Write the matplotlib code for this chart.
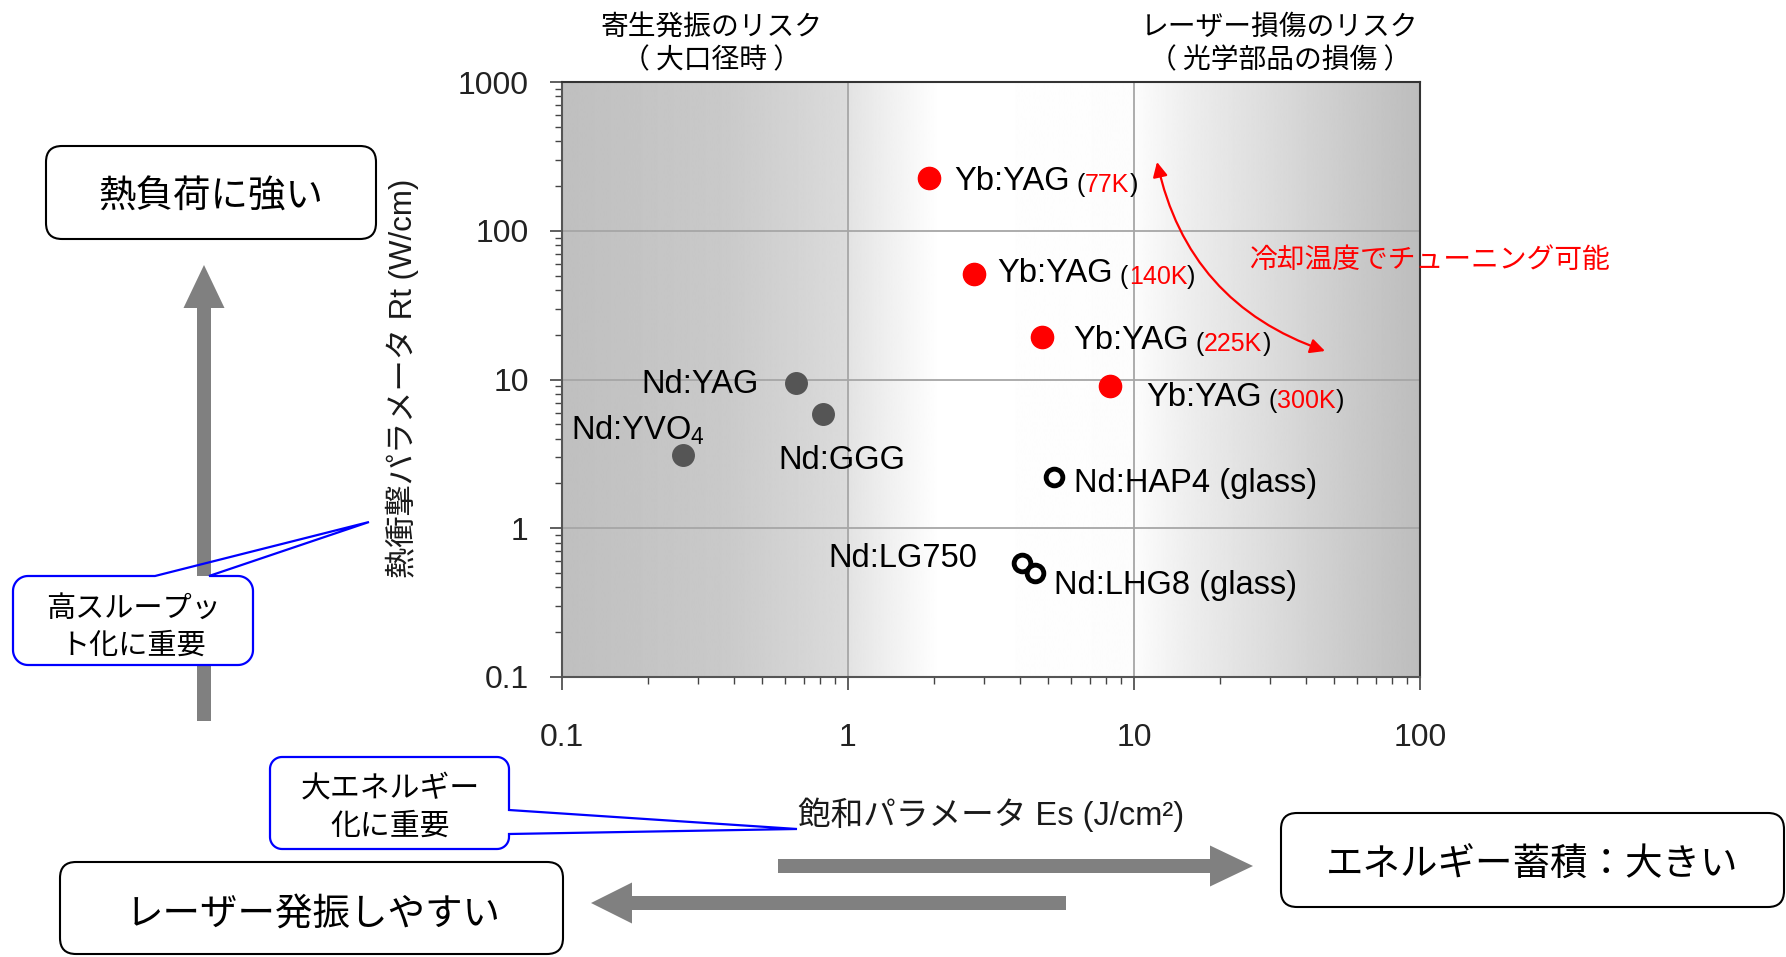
import matplotlib
matplotlib.use("Agg")
import numpy as np
import matplotlib.pyplot as plt
from matplotlib import transforms
from matplotlib.patches import FancyBboxPatch, FancyArrow, Polygon
from matplotlib.ticker import FixedLocator, FixedFormatter, NullFormatter

plt.rcParams['font.family'] = ['Liberation Sans', 'Noto Sans CJK JP']
plt.rcParams['mathtext.fontset'] = 'custom'
plt.rcParams['mathtext.rm'] = 'Liberation Sans'
plt.rcParams['mathtext.it'] = 'Liberation Sans:italic'
plt.rcParams['mathtext.default'] = 'regular'

JP = ['Noto Sans CJK JP', 'Liberation Sans']

# --- data ---
yb_name = 'Yb:YAG'
yb_temps = ['77K', '140K', '225K', '300K']
yb_es = [1.92, 2.75, 4.77, 8.27]
yb_rt = [226, 51, 19.3, 9.0]

crystal_names = ['Nd:YAG', 'Nd:GGG', 'Nd:YVO$_4$']
crystal_es = [0.66, 0.82, 0.265]
crystal_rt = [9.5, 5.9, 3.1]

glass_names = ['Nd:HAP4 (glass)', 'Nd:LG750', 'Nd:LHG8 (glass)']
glass_es = [5.24, 4.05, 4.5]
glass_rt = [2.2, 0.58, 0.50]

x_ticks = [0.1, 1, 10, 100]
x_tick_labels = ['0.1', '1', '10', '100']
y_ticks = [0.1, 1, 10, 100, 1000]
y_tick_labels = ['0.1', '1', '10', '100', '1000']

# label placement (pixels: dx right, dy up) and alignment
yb_offsets = [(25, -11.5), (24, -8), (31, -11.5), (35.5, -19.5)]
crystal_offsets = [(-37.5, -10.5, 'right'), (19, -55.5, 'center'), (-45, 15.5, 'center')]
glass_offsets = [(20.5, -14.5, 'left'), (-44.7, -3.5, 'right'), (19, -20.5, 'left')]

W, H, DPI = 1786, 957, 100
fig = plt.figure(figsize=(W / DPI, H / DPI), dpi=DPI)
# pixel coordinates measured from the top-left corner of the picture
px = transforms.Affine2D().scale(1 / DPI, -1 / DPI).translate(0, H / DPI) + fig.dpi_scale_trans

pos = [562 / W, 1 - 677 / H, (1420 - 562) / W, (677 - 82) / H]

# background shading of the plot area
bg = fig.add_axes(pos, zorder=0)
fx = np.linspace(0, 1, 1200)
stops = [0.0, 0.19, 0.332, 0.334, 0.38, 0.44, 0.667, 0.733, 0.83, 0.925, 1.0]
vals = [0.75, 0.79, 0.86, 0.89, 0.94, 1.0, 0.99, 0.93, 0.86, 0.79, 0.74]
grad = np.interp(fx, stops, vals)[None, :]
bg.imshow(grad, extent=[0, 1, 0, 1], aspect='auto', cmap='gray', vmin=0, vmax=1,
          interpolation='bilinear')
bg.set_xlim(0, 1)
bg.set_ylim(0, 1)
bg.axis('off')

ax = fig.add_axes(pos, zorder=1)
ax.patch.set_alpha(0)
ax.set_xscale('log')
ax.set_yscale('log')
ax.set_xlim(0.1, 100)
ax.set_ylim(0.1, 1000)

ax.xaxis.set_major_locator(FixedLocator(x_ticks))
ax.xaxis.set_major_formatter(FixedFormatter(x_tick_labels))
ax.xaxis.set_minor_formatter(NullFormatter())
ax.yaxis.set_major_locator(FixedLocator(y_ticks))
ax.yaxis.set_major_formatter(FixedFormatter(y_tick_labels))
ax.yaxis.set_minor_formatter(NullFormatter())

ax.tick_params(axis='both', which='major', direction='out', length=9, width=1.2,
               color='#444444', labelsize=23, labelcolor='#222222')
ax.tick_params(axis='both', which='minor', direction='out', length=5, width=1.0,
               color='#444444')
ax.tick_params(axis='y', which='major', pad=15)
ax.tick_params(axis='x', which='major', pad=24)

ax.grid(True, which='major', color='#a6a6a6', lw=1.3)
ax.set_axisbelow(True)
for side in ['left', 'bottom']:
    ax.spines[side].set_color('#555555')
    ax.spines[side].set_linewidth(1.5)
for side in ['top', 'right']:
    ax.spines[side].set_color('#333333')
    ax.spines[side].set_linewidth(1.5)

ax.set_ylabel('熱衝撃パラメータ Rt (W/cm)', fontsize=22.5, color='#1a1a1a')
ax.yaxis.label.set(ha='center', va='center', rotation_mode='anchor')
ax.yaxis.set_label_coords((402 - 562) / 858, (677 - 378) / 595)
ax.set_xlabel('飽和パラメータ Es (J/cm²)', fontsize=23.5, color='#1a1a1a')
ax.xaxis.label.set(ha='center', va='center')
ax.xaxis.set_label_coords((991 - 562) / 858, -(815 - 677) / 595)

# markers
ax.plot(yb_es, yb_rt, 'o', ms=16, color='#ff0000', zorder=3, clip_on=False)
ax.plot(crystal_es, crystal_rt, 'o', ms=15.5, color='#555555', zorder=3)
ax.plot(glass_es, glass_rt, 'o', ms=12, mfc='white', mec='black', mew=3.5, zorder=3)

# labels
for x, y, t, (dx, dy) in zip(yb_es, yb_rt, yb_temps, yb_offsets):
    t0 = ax.annotate(yb_name, (x, y), xytext=(dx, dy), textcoords='offset pixels',
                     ha='left', va='baseline', fontsize=23.5, zorder=4)
    t1 = ax.annotate(' (', (1, 0), xycoords=t0, ha='left', va='bottom', fontsize=18)
    t2 = ax.annotate(t, (1, 0), xycoords=t1, ha='left', va='bottom', fontsize=18,
                     color='#ff0000')
    ax.annotate(')', (1, 0), xycoords=t2, ha='left', va='bottom', fontsize=18)

for x, y, name, (dx, dy, ha) in zip(crystal_es, crystal_rt, crystal_names, crystal_offsets):
    ax.annotate(name, (x, y), xytext=(dx, dy), textcoords='offset pixels',
                ha=ha, va='baseline', fontsize=23.5)

for x, y, name, (dx, dy, ha) in zip(glass_es, glass_rt, glass_names, glass_offsets):
    ax.annotate(name, (x, y), xytext=(dx, dy), textcoords='offset pixels',
                ha=ha, va='baseline', fontsize=23.5)

# red tuning arrow + text
ax.annotate('', xy=(1325, 351), xycoords=px, xytext=(1157, 162), textcoords=px,
            arrowprops=dict(arrowstyle='<|-|>', connectionstyle='arc3,rad=0.28',
                            color='#ff0000', lw=1.6, mutation_scale=22,
                            shrinkA=0, shrinkB=0),
            annotation_clip=False)
fig.text(1249, 260, '冷却温度でチューニング可能', transform=px, ha='left', va='center',
         fontsize=20, color='#ff0000', family=JP)

# titles above the plot
fig.text(711, 27, '寄生発振のリスク', transform=px, ha='center', va='center', fontsize=20, family=JP)
fig.text(711, 60, '（ 大口径時 ）', transform=px, ha='center', va='center', fontsize=20, family=JP)
fig.text(1280, 27, 'レーザー損傷のリスク', transform=px, ha='center', va='center', fontsize=20, family=JP)
fig.text(1280, 60, '（ 光学部品の損傷 ）', transform=px, ha='center', va='center', fontsize=20, family=JP)


def rounded_box(x0, y0, x1, y1, r):
    p = FancyBboxPatch((x0, y0), x1 - x0, y1 - y0,
                       boxstyle='round,pad=0,rounding_size=%g' % r,
                       transform=px, fc='white', ec='black', lw=1.5, zorder=3)
    fig.add_artist(p)


def arc(cx, cy, r, a0, a1, n=14):
    t = np.linspace(a0, a1, n)
    return list(zip(cx + r * np.cos(t), cy + r * np.sin(t)))


def callout(x0, y0, x1, y1, r, side, b0, b1, tip):
    tl = arc(x0 + r, y0 + r, r, np.pi, 1.5 * np.pi)
    tr = arc(x1 - r, y0 + r, r, -0.5 * np.pi, 0)
    br = arc(x1 - r, y1 - r, r, 0, 0.5 * np.pi)
    bl = arc(x0 + r, y1 - r, r, 0.5 * np.pi, np.pi)
    fill = Polygon(tl + tr + br + bl, closed=True, transform=px, fc='white',
                   ec='none', zorder=3)
    if side == 'top':
        notch = [(b0, y0), tip, (b1, y0)]
        pts = tl + notch + tr + br + bl
    else:
        notch = [(x1, b0), tip, (x1, b1)]
        pts = tl + tr + notch + br + bl
    edge = Polygon(pts, closed=True, transform=px, fill=False, ec='#0000ff',
                   lw=1.6, zorder=4)
    fig.add_artist(fill)
    fig.add_artist(edge)


grey = '#808080'
fig.add_artist(FancyArrow(204, 721, 0, 265 - 721, width=14, head_width=41, head_length=43,
                          length_includes_head=True, transform=px, color=grey, lw=0, zorder=2))
fig.add_artist(FancyArrow(778, 866, 1253 - 778, 0, width=14, head_width=41, head_length=43,
                          length_includes_head=True, transform=px, color=grey, lw=0, zorder=2))
fig.add_artist(FancyArrow(1066, 903, 591 - 1066, 0, width=14, head_width=41, head_length=41,
                          length_includes_head=True, transform=px, color=grey, lw=0, zorder=2))

rounded_box(46, 146, 376, 239, 16)
fig.text(211, 197, '熱負荷に強い', transform=px, ha='center', va='center', fontsize=27,
         family=JP, zorder=5)
rounded_box(60, 862, 563, 954, 16)
fig.text(313, 914, 'レーザー発振しやすい', transform=px, ha='center', va='center', fontsize=27,
         family=JP, zorder=5)
rounded_box(1281, 813, 1784, 907, 16)
fig.text(1532, 865, 'エネルギー蓄積：大きい', transform=px, ha='center', va='center', fontsize=27,
         family=JP, zorder=5)

callout(13, 576, 253, 665, 15, 'top', 155, 209, (369, 522))
fig.text(133, 627, '高スループッ\nト化に重要', transform=px, ha='center', va='center',
         multialignment='center', fontsize=21, linespacing=1.3, family=JP, zorder=5)
callout(270, 757, 509, 849, 12, 'right', 810, 834, (797, 829))
fig.text(390, 807, '大エネルギー\n化に重要', transform=px, ha='center', va='center',
         multialignment='center', fontsize=21.5, linespacing=1.3, family=JP, zorder=5)

fig.savefig('out.png', dpi=DPI)
